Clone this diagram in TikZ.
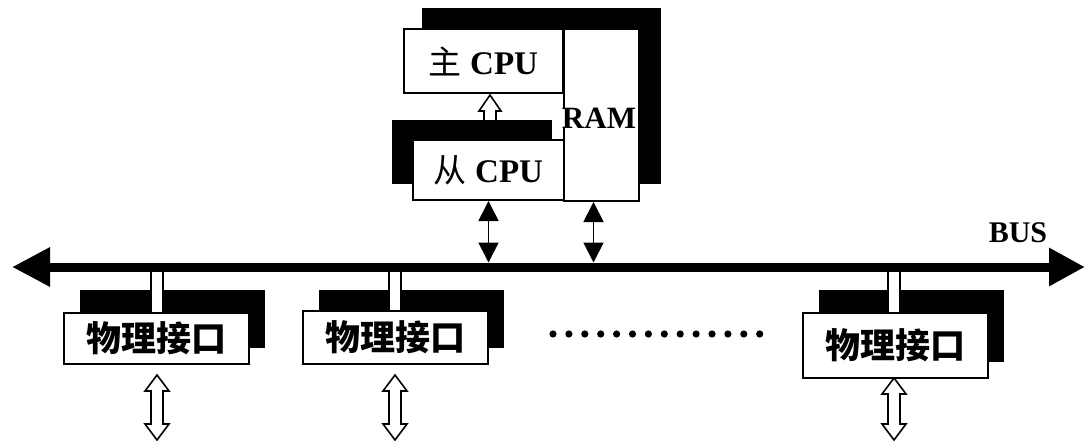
\documentclass[tikz,border=0pt]{standalone}
\usepackage{fontspec}
\setmainfont{Liberation Serif}
\newfontfamily\cjk{Noto Sans CJK SC}
\usetikzlibrary{arrows.meta}
\newcommand{\UnitFont}{\fontsize{33}{38}\selectfont\bfseries}
\newcommand{\PortFont}{\fontsize{35}{40}\selectfont\cjk\bfseries}
\newcommand{\PortArrow}[3]{%
  \draw[hollow] (#1,#2) -- ++(12,16) -- ++(-6,0) -- (#1+6,#3-16) -- ++(6,0) -- (#1,#3)
    -- ++(-12,-16) -- ++(6,0) -- (#1-6,#2+16) -- ++(-6,0) -- cycle;}

\begin{document}
\begin{tikzpicture}[x=1pt,y=-1pt,
    unitbox/.style={draw=black,fill=white,line width=2pt,inner sep=0pt,anchor=north west},
    dlink/.style={line width=1.8pt,shorten >=4.5pt,
      {Triangle[length=20pt,width=20pt]}-{Triangle[length=20pt,width=20pt]}},
    hollow/.style={draw=black,fill=white,line width=1.6pt,line join=miter}]
  \useasboundingbox (0,0) rectangle (1085,441);

  % CPU group
  \fill (422,8) rectangle (590,72);
  \fill (585,8) rectangle (661,184);
  \node[unitbox,minimum width=159pt,minimum height=64pt] (master) at (403,28)
    {\UnitFont{\mdseries\cjk 主} CPU};
  \node[unitbox,minimum width=75pt,minimum height=172pt] (ram) at (563,28) {};
  \draw[hollow] (490,95) -- (501,111) -- (496,111) -- (496,121) -- (484,121)
    -- (484,111) -- (479,111) -- cycle;
  \fill (392,120) rectangle (552,184);
  \node[unitbox,minimum width=151pt,minimum height=60pt] (slave) at (412,139)
    {\UnitFont{\mdseries\cjk 从} CPU};
  \node[fill=white,inner sep=0pt,font=\fontsize{31}{36}\selectfont\bfseries] (ramlabel)
    at (599,118) {RAM};

  % interfaces
  \foreach \bx/\by/\bh/\px/\ay/\nm in {63/312/51/157/375/a,302/310/53/395/375/b,802/312/65/894/378/c}{
    \fill (\bx+17,290) rectangle (\bx+202,\by+\bh-15);
    \fill[white] (\px-6,271) rectangle (\px+6,\by);
    \draw[line width=1.6pt] (\px-6,271) -- (\px-6,\by) (\px+6,271) -- (\px+6,\by);
    \node[unitbox,minimum width=185pt,minimum height=\bh pt] (port\nm) at (\bx,\by)
      {\PortFont 物理接口};
    \PortArrow{\px}{\ay}{440}
  }
  \foreach \k in {0,...,13}
    \fill (553+15.9*\k,334) circle (3.6pt);

  % bus
  \coordinate (busL) at (12,267);
  \coordinate (busR) at (1085,267);
  \draw[line width=9pt,{Triangle[length=38pt,width=37pt]}-{Triangle[length=36pt,width=36pt]}]
    (busL) -- (busR);
  \node[font=\fontsize{30}{34}\selectfont\bfseries] (buslabel) at (1018,233) {BUS};

  \draw[dlink] (slave.south) -- (slave.south |- busL);
  \draw[dlink] ([xshift=-8pt]ram.south) -- ([xshift=-8pt]ram.south |- busL);
\end{tikzpicture}
\end{document}
